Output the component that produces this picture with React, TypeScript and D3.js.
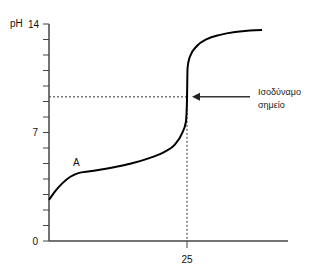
import React from "react";
import * as d3 from "d3";

const volume = [0, 1.1, 2.4, 3.8, 5.3, 7.4, 9.2, 12, 14.7, 18.3, 21, 22.8, 24.1, 24.8, 25.0, 25.1, 25.5, 26.8, 28.6, 31, 33.7, 36.4, 38.6];
const phValues = [2.65, 3.2, 3.72, 4.13, 4.38, 4.5, 4.6, 4.78, 4.98, 5.36, 5.76, 6.22, 6.95, 7.68, 9.1, 11.16, 11.87, 12.58, 13.03, 13.3, 13.48, 13.58, 13.61];
const yTickValues = [0, 1, 2, 3, 4, 5, 6, 7, 8, 9, 10, 11, 12, 13, 14];
const yTickLabels = [0, 7, 14];
const xTickLabels = [25];
const equivalence = { x: 25, ph: 9.3 };
const labelText = ["Ισοδύναμο", "σημείο"];

export default function App() {
  const x = d3.scaleLinear().domain([0, 43.3]).range([49, 288]);
  const y = d3.scaleLinear().domain([0, 14]).range([241, 24]);
  const pts = volume.map((v, i) => [v, phValues[i]] as [number, number]);
  const line = d3
    .line<[number, number]>()
    .x((d) => x(d[0]))
    .y((d) => y(d[1]))
    .curve(d3.curveMonotoneX);
  const font = "Liberation Sans, Arial, sans-serif";
  const ex = x(equivalence.x);
  const ey = y(equivalence.ph);
  return (
    <svg width={328} height={280} style={{ position: "absolute", left: 0, top: 0 }}>
      <rect width={328} height={280} fill="#fff" />
      <line x1={x(0)} x2={ex} y1={ey} y2={ey} stroke="#333" strokeWidth={1} strokeDasharray="2,2" />
      <line x1={ex} x2={ex} y1={ey} y2={y(0)} stroke="#333" strokeWidth={1} strokeDasharray="2,2" />
      <line x1={x(0)} x2={x(0)} y1={y(14)} y2={y(0)} stroke="#444" strokeWidth={1.5} />
      <line x1={x(0)} x2={288} y1={y(0)} y2={y(0)} stroke="#444" strokeWidth={1.5} />
      {yTickValues.map((t) => (
        <line key={t} x1={x(0) - 6} x2={x(0)} y1={y(t)} y2={y(t)} stroke="#444" strokeWidth={1} />
      ))}
      {yTickLabels.map((t) => (
        <text key={t} x={t === 14 ? 39 : 38} y={y(t)} dy="0.35em" textAnchor="end" fontSize={10} fontFamily={font} fill="#111">
          {t}
        </text>
      ))}
      {xTickLabels.map((t) => (
        <g key={t}>
          <line x1={x(t)} x2={x(t)} y1={y(0)} y2={y(0) + 7} stroke="#444" strokeWidth={1} />
          <text x={x(t)} y={263} textAnchor="middle" fontSize={10} fontFamily={font} fill="#111">
            {t}
          </text>
        </g>
      ))}
      <text x={10} y={27} fontSize={10} fontFamily={font} fill="#111">pH</text>
      <path d={line(pts) || ""} fill="none" stroke="#000" strokeWidth={2} strokeLinejoin="round" />
      <text x={73} y={166} fontSize={10} fontFamily={font} fill="#111">A</text>
      <line x1={250} x2={198} y1={ey} y2={ey} stroke="#333" strokeWidth={1.5} />
      <path d={`M${ex + 5},${ey} L${ex + 13},${ey - 4} L${ex + 13},${ey + 4} Z`} fill="#222" />
      {labelText.map((s, i) => (
        <text key={s} x={258} y={95 + i * 13} fontSize={9} fontFamily={font} fill="#222">
          {s}
        </text>
      ))}
    </svg>
  );
}
